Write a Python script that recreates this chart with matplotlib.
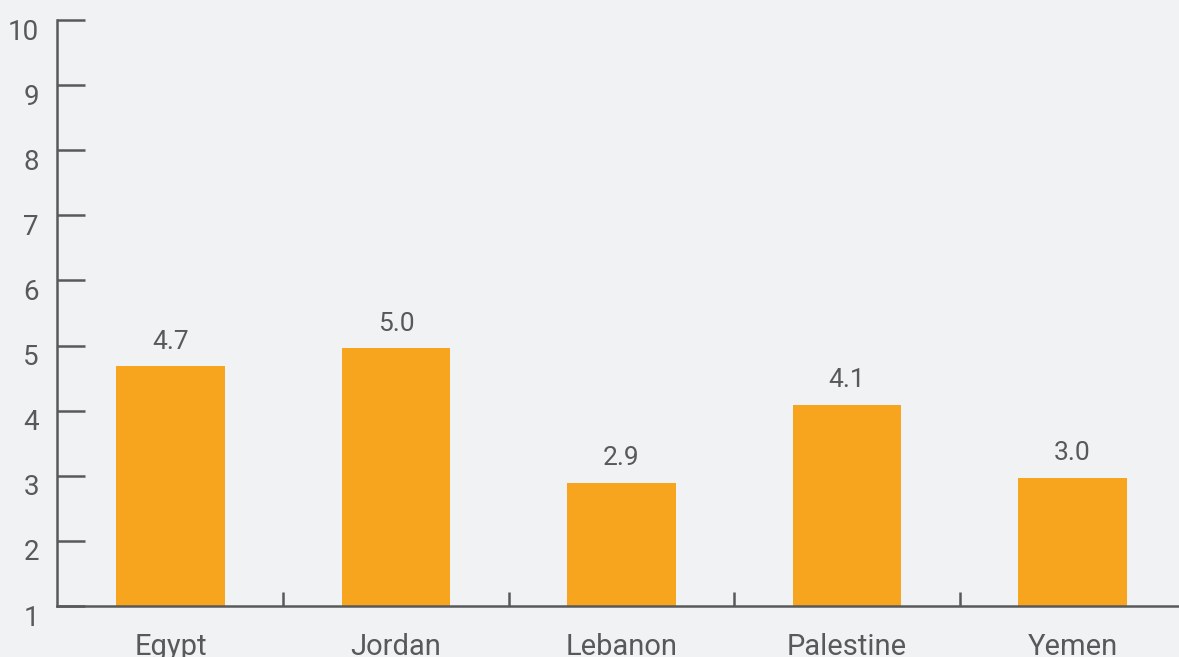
import matplotlib
matplotlib.use('Agg')
import matplotlib.pyplot as plt
import matplotlib.transforms as mtransforms
import numpy as np

# Data
countries = ['Egypt', 'Jordan', 'Lebanon', 'Palestine', 'Yemen']
values = [4.68, 4.96, 2.89, 4.09, 2.97]
yticks = list(range(1, 11))

bg = '#f1f2f4'
bar_color = '#f7a51e'
ink = '#58595b'

plt.rcParams['font.family'] = ['Roboto', 'DejaVu Sans']

fig = plt.figure(figsize=(11.79, 6.57), dpi=100, facecolor=bg)
ax = fig.add_axes([57 / 1179, 51 / 657, 1 - 57 / 1179, 586 / 657], facecolor=bg)

x = np.arange(len(countries))
ax.bar(x, values, width=0.483, color=bar_color, zorder=2)

# value labels above bars
for xi, v in zip(x, values):
    ax.annotate(f'{v:.1f}', (xi, v), xytext=(0, 9), textcoords='offset points',
                ha='center', va='bottom', fontsize=19, color=ink)

ax.set_xlim(-0.503, 4.472)
ax.set_ylim(1, 10)

# spines
for side in ['top', 'right']:
    ax.spines[side].set_visible(False)
for side in ['left', 'bottom']:
    ax.spines[side].set_color(ink)
    ax.spines[side].set_linewidth(1.8)
    ax.spines[side].set_zorder(3)

# y ticks point inward
ax.set_yticks(yticks)
ax.tick_params(axis='y', direction='in', length=20, width=1.8, color=ink,
               labelsize=20, labelcolor=ink, pad=13)
offset = mtransforms.ScaledTranslation(0, -9 / 100, fig.dpi_scale_trans)
for lbl in ax.get_yticklabels():
    lbl.set_transform(lbl.get_transform() + offset)

# x labels at centers, separators as minor ticks between categories
ax.set_xticks(x)
ax.set_xticklabels(countries)
ax.tick_params(axis='x', which='major', length=0, labelsize=21, labelcolor=ink, pad=19.5)
ax.set_xticks(x[:-1] + 0.5, minor=True)
ax.tick_params(axis='x', which='minor', direction='in', length=10, width=1.8, color=ink)

fig.savefig('out.png', dpi=100, facecolor=bg)
